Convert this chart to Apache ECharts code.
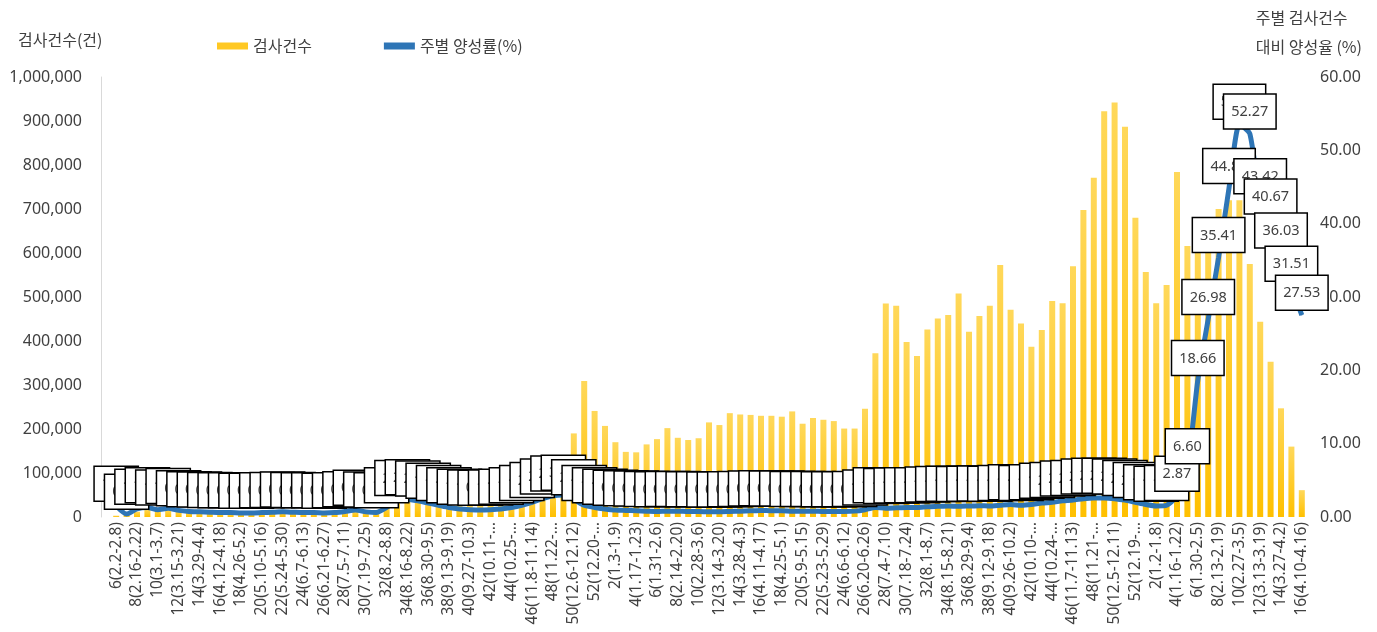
<!DOCTYPE html>
<html>
<head>
<meta charset="utf-8">
<script src="https://cdn.jsdelivr.net/npm/echarts@6/dist/echarts.min.js"></script>
<style>
html,body{margin:0;padding:0;background:#fff;}
#chart{width:1377px;height:632px;}
</style>
</head>
<body>
<div id="chart"></div>
<script>
// ---- category labels (week number and date range) ----
const weeks2020 = [
 '6(2.2-2.8)','7(2.9-2.15)','8(2.16-2.22)','9(2.23-2.29)','10(3.1-3.7)','11(3.8-3.14)','12(3.15-3.21)','13(3.22-3.28)',
 '14(3.29-4.4)','15(4.5-4.11)','16(4.12-4.18)','17(4.19-4.25)','18(4.26-5.2)','19(5.3-5.9)','20(5.10-5.16)','21(5.17-5.23)',
 '22(5.24-5.30)','23(5.31-6.6)','24(6.7-6.13)','25(6.14-6.20)','26(6.21-6.27)','27(6.28-7.4)','28(7.5-7.11)','29(7.12-7.18)',
 '30(7.19-7.25)','31(7.26-8.1)','32(8.2-8.8)','33(8.9-8.15)','34(8.16-8.22)','35(8.23-8.29)','36(8.30-9.5)','37(9.6-9.12)',
 '38(9.13-9.19)','39(9.20-9.26)','40(9.27-10.3)','41(10.4-10.10)','42(10.11-10.17)','43(10.18-10.24)','44(10.25-10.31)','45(11.1-11.7)',
 '46(11.8-11.14)','47(11.15-11.21)','48(11.22-11.28)','49(11.29-12.5)','50(12.6-12.12)','51(12.13-12.19)','52(12.20-12.26)'
];
const weeks2021 = [
 '1(12.27-1.2)','2(1.3-1.9)','3(1.10-1.16)','4(1.17-1.23)','5(1.24-1.30)','6(1.31-2.6)','7(2.7-2.13)','8(2.14-2.20)',
 '9(2.21-2.27)','10(2.28-3.6)','11(3.7-3.13)','12(3.14-3.20)','13(3.21-3.27)','14(3.28-4.3)','15(4.4-4.10)','16(4.11-4.17)',
 '17(4.18-4.24)','18(4.25-5.1)','19(5.2-5.8)','20(5.9-5.15)','21(5.16-5.22)','22(5.23-5.29)','23(5.30-6.5)','24(6.6-6.12)',
 '25(6.13-6.19)','26(6.20-6.26)','27(6.27-7.3)','28(7.4-7.10)','29(7.11-7.17)','30(7.18-7.24)','31(7.25-7.31)','32(8.1-8.7)',
 '33(8.8-8.14)','34(8.15-8.21)','35(8.22-8.28)','36(8.29-9.4)','37(9.5-9.11)','38(9.12-9.18)','39(9.19-9.25)','40(9.26-10.2)',
 '41(10.3-10.9)','42(10.10-10.16)','43(10.17-10.23)','44(10.24-10.30)','45(10.31-11.6)','46(11.7-11.13)','47(11.14-11.20)','48(11.21-11.27)',
 '49(11.28-12.4)','50(12.5-12.11)','51(12.12-12.18)','52(12.19-12.25)'
];
const weeks2022 = [
 '1(12.26-1.1)','2(1.2-1.8)','3(1.9-1.15)','4(1.16-1.22)','5(1.23-1.29)','6(1.30-2.5)','7(2.6-2.12)','8(2.13-2.19)',
 '9(2.20-2.26)','10(2.27-3.5)','11(3.6-3.12)','12(3.13-3.19)','13(3.20-3.26)','14(3.27-4.2)','15(4.3-4.9)','16(4.10-4.16)'
];

// ---- weekly test counts (건) ----
const tests2020 = [
 3000,5000,12000,18000,20000,16000,14000,13000,12000,11000,
 10000,9000,8000,9000,14000,13000,15000,14000,15000,14000,
 14000,13000,13000,14000,13000,14000,30000,45000,55000,50000,
 40000,35000,32000,30000,28000,30000,32000,33000,35000,38000,
 45000,60000,70000,85000,190000,309000,241000
];
const tests2021 = [
 207000,170000,148000,147000,165000,177000,202000,180000,175000,179000,
 215000,209000,236000,233000,232000,230000,230000,228000,240000,212000,
 225000,221000,218000,201000,201000,246000,372000,485000,480000,398000,
 366000,426000,451000,459000,508000,421000,457000,480000,573000,471000,
 440000,387000,425000,491000,486000,570000,698000,771000,922000,942000,
 887000,680000
];
const tests2022 = [
 557000,486000,527000,784000,616000,650000,680000,700000,720000,720000,
 575000,444000,353000,247000,160000,61000
];

// ---- weekly positivity (%) ----
const positivity2020 = [
 1.5,0.4,1.1,1.3,1.0,1.2,0.9,0.75,0.7,0.65,
 0.6,0.6,0.55,0.55,0.6,0.65,0.7,0.65,0.6,0.6,
 0.55,0.6,0.75,0.95,0.7,0.6,1.3,2.3,2.4,2.2,
 1.9,1.6,1.3,1.1,1.0,0.95,1.0,1.1,1.3,1.6,
 2.0,2.5,2.9,3.0,2.4,1.6,1.3
];
const positivity2021 = [
 1.1,0.95,0.9,0.85,0.8,0.75,0.8,0.8,0.75,0.75,
 0.7,0.7,0.75,0.8,0.85,0.9,0.85,0.85,0.8,0.8,
 0.8,0.75,0.75,0.75,0.8,1.0,1.3,1.2,1.25,1.3,
 1.3,1.4,1.45,1.5,1.45,1.5,1.55,1.5,1.6,1.7,
 1.6,1.7,1.9,2.0,2.2,2.3,2.5,2.6,2.6,2.5,
 2.3,2.0
];
const positivity2022 = [
 1.7,1.5,1.6,2.87,6.60,18.66,26.98,35.41,44.84,53.6,
 52.27,43.42,40.67,36.03,31.51,27.53
];

const categories = [...weeks2020, ...weeks2021, ...weeks2022];
const tests = [...tests2020, ...tests2021, ...tests2022];
const positivity = [...positivity2020, ...positivity2021, ...positivity2022];

const FONT = "'Noto Sans', 'Noto Sans CJK KR', sans-serif";
const KFONT = "'Noto Sans CJK KR', 'Noto Sans', sans-serif";
const TXT = '#404040';

const chart = echarts.init(document.getElementById('chart'));
const barColor = new echarts.graphic.LinearGradient(0, 0, 0, 1, [
  {offset: 0, color: '#FFD85A'},
  {offset: 1, color: '#FFC000'}
]);

chart.setOption({
  animation: false,
  textStyle: {fontFamily: FONT, color: TXT},
  grid: {left: 111, right: 70, top: 77, bottom: 115},
  legend: {
    left: 212, top: 33,
    itemWidth: 31, itemHeight: 7, itemGap: 72,
    textStyle: {fontFamily: KFONT, fontSize: 16, color: TXT},
    data: [
      {name: '검사건수', icon: 'rect', itemStyle: {color: '#FFC823'}},
      {name: '주별 양성률(%)', icon: 'rect', itemStyle: {color: '#2E75B6'}}
    ]
  },
  graphic: [
    {type: 'text', left: 18, top: 32,
     style: {text: '검사건수(건)', fontFamily: KFONT, fontSize: 16, fill: TXT}},
    {type: 'text', right: 15, top: 3,
     style: {text: '주별 검사건수\n대비 양성율 (%)', fontFamily: KFONT, fontSize: 16, lineHeight: 29, fill: TXT, align: 'right'}}
  ],
  xAxis: {
    type: 'category',
    data: categories,
    axisLine: {show: false},
    axisTick: {show: false},
    axisLabel: {
      interval: 1, rotate: 90, margin: 5,
      fontSize: 15.5, color: TXT, fontFamily: FONT,
      formatter: v => v.length > 14 ? v.slice(0, 9) + '…' : v
    }
  },
  yAxis: [
    {
      type: 'value', min: 0, max: 1000000, interval: 100000, offset: 10,
      axisLine: {show: true, lineStyle: {color: '#D9D9D9', width: 1}},
      axisTick: {show: false},
      splitLine: {show: false},
      axisLabel: {margin: 19, fontSize: 16, color: TXT, formatter: v => v.toLocaleString('en-US')}
    },
    {
      type: 'value', min: 0, max: 60, interval: 10, position: 'right',
      axisLine: {show: false}, axisTick: {show: false}, splitLine: {show: false},
      axisLabel: {margin: 13, fontSize: 16, color: TXT, formatter: v => v.toFixed(2)}
    }
  ],
  series: [
    {
      name: '검사건수', type: 'bar', data: tests,
      barWidth: 6,
      itemStyle: {color: barColor}
    },
    {
      name: '주별 양성률(%)', type: 'line', yAxisIndex: 1, data: positivity,
      smooth: 0.2,
      symbol: 'circle', symbolSize: 1, showSymbol: true, showAllSymbol: true,
      lineStyle: {width: 5, color: '#2E75B6'},
      itemStyle: {color: '#2E75B6'},
      label: {
        show: true, position: 'top', distance: 5,
        formatter: p => Number(p.value).toFixed(2),
        fontFamily: FONT, fontSize: 14.5, color: TXT,
        backgroundColor: '#fff', borderColor: '#000', borderWidth: 1.5,
        padding: [10, 7, 9, 7]
      },
      labelLayout: {hideOverlap: false},
      z: 3
    }
  ]
});
</script>
</body>
</html>
